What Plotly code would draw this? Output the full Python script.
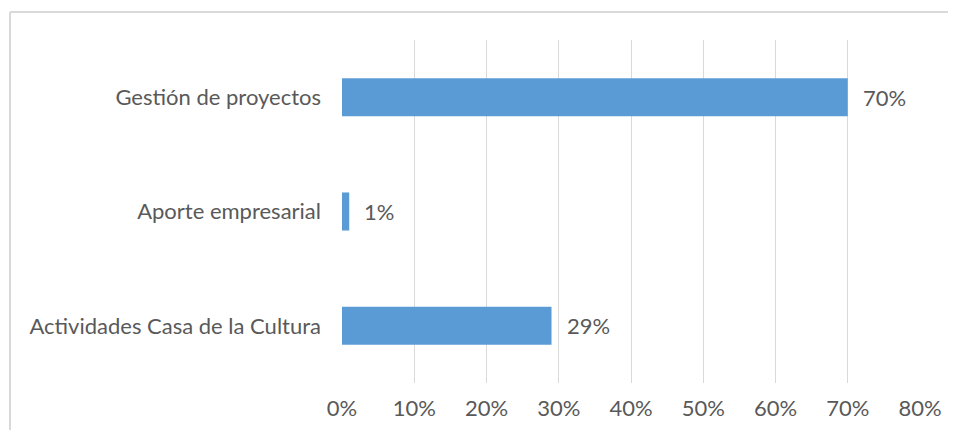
import plotly.graph_objects as go

categories = ["Actividades Casa de la Cultura", "Aporte empresarial", "Gestión de proyectos"]
values = [0.29, 0.01, 0.70]
labels = ["29%", "1%", "70%"]
tick_vals = [0, 0.1, 0.2, 0.3, 0.4, 0.5, 0.6, 0.7, 0.8]
tick_text = ["0%", "10%", "20%", "30%", "40%", "50%", "60%", "70%", "80%"]

# the page body has an 8px margin, so the figure is sized/offset to compensate
OFF = 8
W, H = 956 - 2 * OFF, 438 - 2 * OFF
ml, mt = 342 - OFF, 40 - OFF
mr = W - (920 - OFF)
mb = H - (383 - OFF)
pw, ph = W - ml - mr, H - mt - mb

font_family = "Lato, 'Open Sans', sans-serif"
txt_color = "#595959"
fs = 22

fig = go.Figure(go.Bar(
    x=values, y=categories, orientation="h",
    marker=dict(color="#5B9BD5", line=dict(width=0)),
    hoverinfo="skip",
))

for v, c, t in zip(values, categories, labels):
    fig.add_annotation(x=v, y=c, text=t, showarrow=False, xanchor="left",
                       xshift=13, yshift=0,
                       font=dict(family=font_family, size=fs, color=txt_color))

# outer frame (light gray): top and left edges only, as in the reference crop
fx0 = (2 - ml) / pw
fx1 = (W - ml) / pw
fy_top = 1 - (4 - mt) / ph
fy_bot = 1 - (H - mt) / ph
frame = dict(color="#D9D9D9", width=2)
fig.add_shape(type="line", xref="paper", yref="paper",
              x0=fx0, x1=fx1, y0=fy_top, y1=fy_top, line=frame, layer="below")
fig.add_shape(type="line", xref="paper", yref="paper",
              x0=fx0, x1=fx0, y0=fy_top, y1=fy_bot, line=frame, layer="below")

fig.update_layout(
    width=W, height=H,
    margin=dict(l=ml, r=mr, t=mt, b=mb, pad=0, autoexpand=False),
    paper_bgcolor="white", plot_bgcolor="white",
    bargap=0.667,
    showlegend=False,
    font=dict(family=font_family, size=fs, color=txt_color),
    xaxis=dict(range=[0, 0.8], tickvals=tick_vals, ticktext=tick_text,
               showgrid=True, gridcolor="#D9D9D9", gridwidth=1,
               zeroline=False, showline=False, ticks="", automargin=False,
               ticklabelstandoff=10, fixedrange=True),
    yaxis=dict(categoryorder="array", categoryarray=categories,
               showgrid=False, zeroline=False, showline=False, ticks="", automargin=False,
               ticklabelstandoff=20, fixedrange=True),
)

fig.write_html("out.html")
